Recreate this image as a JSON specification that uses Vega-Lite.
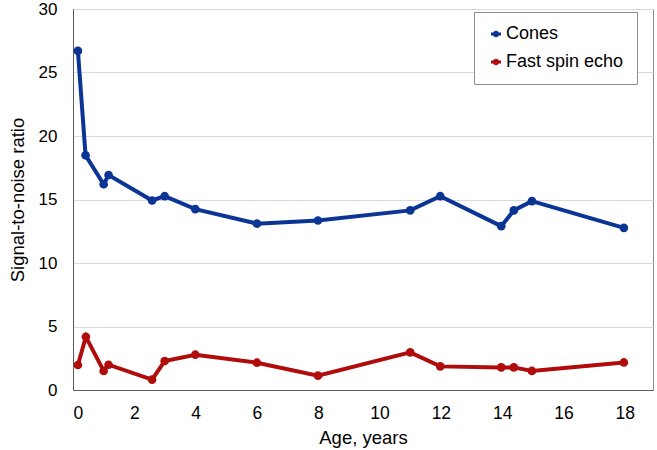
{
  "$schema": "https://vega.github.io/schema/vega-lite/v6.json",
  "width": 580,
  "height": 381,
  "autosize": {"type": "none"},
  "padding": {"left": 73, "top": 9, "right": 4, "bottom": 60},
  "background": "white",
  "config": {
    "font": "Liberation Sans",
    "view": {"stroke": "#8c8c8c", "strokeWidth": 1}
  },
  "data": {
    "values": [
      {"age": 0.16, "snr": 26.7, "series": "Cones"},
      {"age": 0.41, "snr": 18.48, "series": "Cones"},
      {"age": 1.0, "snr": 16.2, "series": "Cones"},
      {"age": 1.16, "snr": 16.93, "series": "Cones"},
      {"age": 2.58, "snr": 14.92, "series": "Cones"},
      {"age": 2.99, "snr": 15.26, "series": "Cones"},
      {"age": 3.99, "snr": 14.24, "series": "Cones"},
      {"age": 6.0, "snr": 13.1, "series": "Cones"},
      {"age": 7.99, "snr": 13.35, "series": "Cones"},
      {"age": 11.0, "snr": 14.14, "series": "Cones"},
      {"age": 11.98, "snr": 15.26, "series": "Cones"},
      {"age": 13.97, "snr": 12.9, "series": "Cones"},
      {"age": 14.38, "snr": 14.14, "series": "Cones"},
      {"age": 14.97, "snr": 14.87, "series": "Cones"},
      {"age": 17.97, "snr": 12.77, "series": "Cones"},
      {"age": 0.16, "snr": 1.97, "series": "Fast spin echo"},
      {"age": 0.42, "snr": 4.19, "series": "Fast spin echo"},
      {"age": 1.0, "snr": 1.5, "series": "Fast spin echo"},
      {"age": 1.16, "snr": 1.99, "series": "Fast spin echo"},
      {"age": 2.58, "snr": 0.82, "series": "Fast spin echo"},
      {"age": 2.99, "snr": 2.28, "series": "Fast spin echo"},
      {"age": 3.99, "snr": 2.78, "series": "Fast spin echo"},
      {"age": 6.0, "snr": 2.15, "series": "Fast spin echo"},
      {"age": 7.99, "snr": 1.13, "series": "Fast spin echo"},
      {"age": 11.0, "snr": 2.96, "series": "Fast spin echo"},
      {"age": 11.98, "snr": 1.86, "series": "Fast spin echo"},
      {"age": 13.97, "snr": 1.78, "series": "Fast spin echo"},
      {"age": 14.38, "snr": 1.78, "series": "Fast spin echo"},
      {"age": 14.97, "snr": 1.5, "series": "Fast spin echo"},
      {"age": 17.97, "snr": 2.17, "series": "Fast spin echo"}
    ]
  },
  "encoding": {
    "x": {
      "field": "age", "type": "quantitative",
      "scale": {"domain": [0, 18.92], "nice": false, "zero": false},
      "axis": {
        "title": "Age, years", "values": [0, 2, 4, 6, 8, 10, 12, 14, 16, 18],
        "grid": false, "domainColor": "#595959", "ticks": false,
        "labelFontSize": 17.5, "labelColor": "#000", "labelPadding": 14,
        "titleFontSize": 18.5, "titleFontWeight": "normal", "titleColor": "#000", "titlePadding": 7
      }
    },
    "y": {
      "field": "snr", "type": "quantitative",
      "scale": {"domain": [0, 30], "nice": false},
      "axis": {
        "title": "Signal-to-noise ratio", "values": [0, 5, 10, 15, 20, 25, 30],
        "gridColor": "#d9d9d9", "domainColor": "#595959", "ticks": false,
        "labelFontSize": 17, "labelColor": "#000", "labelPadding": 16,
        "titleFontSize": 18.5, "titleFontWeight": "normal", "titleColor": "#000", "titlePadding": 11
      }
    },
    "color": {
      "field": "series", "type": "nominal",
      "scale": {"domain": ["Cones", "Fast spin echo"], "range": ["#0a3595", "#b00c0c"]},
      "legend": {
        "title": null, "orient": "none", "legendX": 401, "legendY": 3,
        "strokeColor": "#8c8c8c", "fillColor": "white", "padding": 13,
        "labelFontSize": 18, "labelColor": "#000", "rowPadding": 10, "labelOffset": 1,
        "symbolType": "M -1 0 L 1 0 M -0.35 0 A 0.35 0.35 0 1 0 0.35 0 A 0.35 0.35 0 1 0 -0.35 0 Z",
        "symbolSize": 100, "symbolStrokeWidth": 3
      }
    }
  },
  "layer": [
    {"mark": {"type": "line", "strokeWidth": 4}},
    {"mark": {"type": "circle", "size": 75, "opacity": 1}}
  ]
}
